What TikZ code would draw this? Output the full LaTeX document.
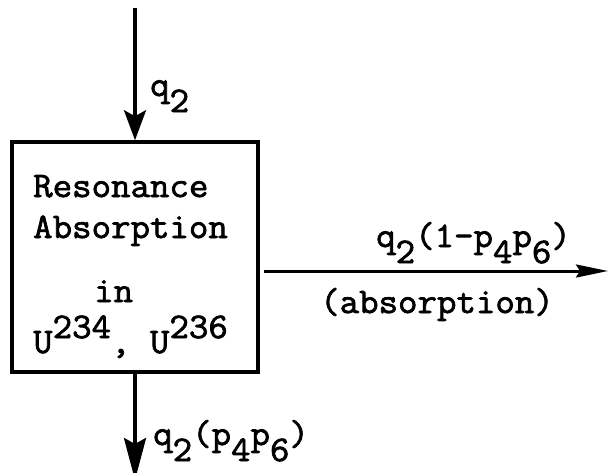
\documentclass[tikz,border=0pt]{standalone}
\usepackage{fontspec}
\setmonofont[FakeStretch=1.05,FakeBold=2]{Latin Modern Mono}
\usetikzlibrary{arrows.meta}
\newcommand\tsub[1]{\raisebox{-16pt}{#1}}
\newcommand\tsup[1]{\raisebox{15pt}{#1}}
\begin{document}
\begin{tikzpicture}[x=1pt,y=-1pt,
  lbl/.style={anchor=base west,inner sep=0pt,font=\ttfamily\fontsize{36}{36}\selectfont},
  boxst/.style={draw,line width=3.5pt,minimum width=246pt,minimum height=230pt,inner sep=0pt},
  flow/.style={line width=3.5pt},
  headA/.style={-{Stealth[length=30pt,width=22pt,inset=6pt]}},
  headB/.style={-{Stealth[length=32pt,width=13pt,inset=4pt]}},
  headC/.style={-{Stealth[length=42pt,width=22pt,inset=6pt]}}]
\useasboundingbox (0,0) rectangle (613,472);
\clip (0,0) rectangle (613,472);
\node[boxst] (box) at (135,257) {};
\node[lbl] (t1) at (33,197) {Resonance};
\node[lbl] (t2) at (33,238) {Absorption};
\node[lbl] (t3) at (94,302) {in};
\node[lbl] (t4) at (33,353) {U\tsup{234}, U\tsup{236}};
\coordinate (topin) at (135,8);
\coordinate (rend) at (608,271);
\coordinate (bend) at (135,480);
\draw[flow,headA] (topin) -- (box.north);
\draw[flow,line width=3pt,headB] ([xshift=4pt]box.east |- rend) -- (rend);
\draw[flow,headC] (box.south) -- (bend);
\node[lbl] (lq) at (150,96) {q\tsub{2}};
\node[lbl] (lr) at (376,247) {q\tsub{2}(1-p\tsub{4}p\tsub{6})};
\node[lbl] (la) at (320,313) {(absorption)};
\node[lbl] (lb) at (153,445) {q\tsub{2}(p\tsub{4}p\tsub{6})};
\end{tikzpicture}
\end{document}
